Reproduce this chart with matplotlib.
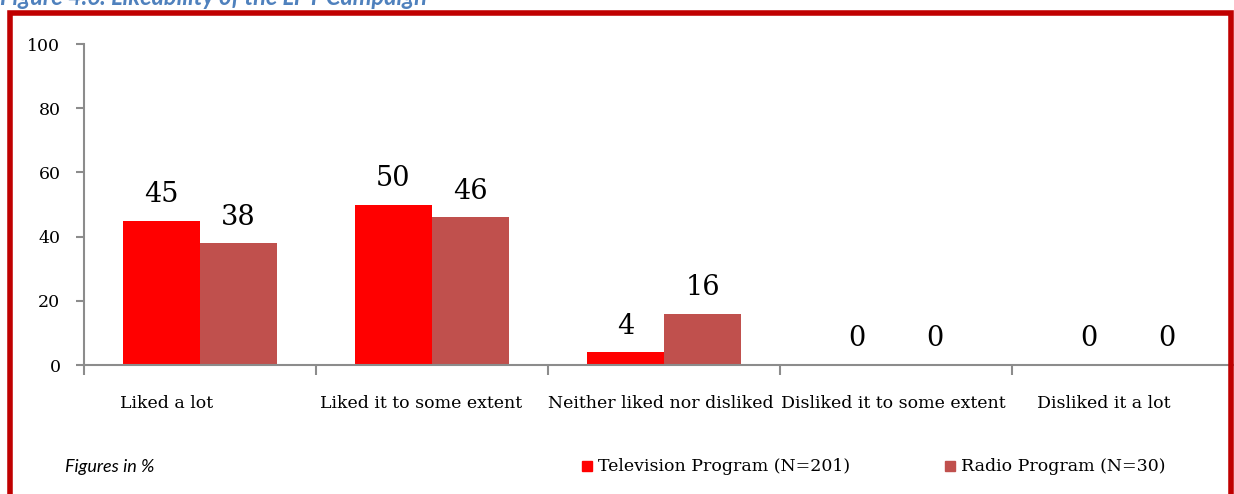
import matplotlib.pyplot as plt
import matplotlib.transforms as mtransforms
from matplotlib.patches import Rectangle
import numpy as np

categories = ["Liked a lot", "Liked it to some extent", "Neither liked nor disliked",
              "Disliked it to some extent", "Disliked it a lot"]
tv_values = [45, 50, 4, 0, 0]
radio_values = [38, 46, 16, 0, 0]
series_names = ["Television Program (N=201)", "Radio Program (N=30)"]

tv_color = "#FF0000"
radio_color = "#C0504D"
axis_color = "#8C8C8C"
serif = "DejaVu Serif"

W, H = 1234, 494
fig = plt.figure(figsize=(W / 100, H / 100), dpi=100)

# axes spans 84..1244 px horizontally (goes past the right edge), 44..365 px vertically
ax = fig.add_axes([84 / W, (H - 365) / H, (1244 - 84) / W, (365 - 44) / H])

x = np.arange(len(categories))
bw = 0.334
b1 = ax.bar(x - bw / 2, tv_values, bw, color=tv_color)
b2 = ax.bar(x + bw / 2, radio_values, bw, color=radio_color)

ax.set_xlim(-0.5, len(categories) - 0.5)
ax.set_ylim(0, 100)
ax.set_yticks(range(0, 101, 20))
ax.set_xticks(np.arange(-0.5, len(categories), 1.0))
ax.set_xticklabels([])
for s in ["top", "right"]:
    ax.spines[s].set_visible(False)
for s in ["left", "bottom"]:
    ax.spines[s].set_color(axis_color)
    ax.spines[s].set_linewidth(1.5)
ax.tick_params(axis="y", length=6, width=1.5, color=axis_color, pad=11,
               labelsize=12.5, labelfontfamily=serif)
ax.tick_params(axis="x", length=7, width=1.5, color=axis_color)

# category labels (Excel places them slightly off-center)
nudges = [-33, -11, -3, -3, -24]
for i, (lab, dx) in enumerate(zip(categories, nudges)):
    tr = ax.get_xaxis_transform() + mtransforms.ScaledTranslation(dx / 100, -38 / 100, fig.dpi_scale_trans)
    ax.text(i, 0, lab, transform=tr, ha="center", va="center",
            fontsize=12.5, family=serif)

def autolabel(rects):
    for rect in rects:
        h = rect.get_height()
        ax.annotate('%d' % int(h), (rect.get_x() + rect.get_width() / 2, h),
                    xytext=(0, 9), textcoords="offset points",
                    ha="center", va="bottom", fontsize=19.5, family=serif)

autolabel(b1)
autolabel(b2)

# legend drawn by hand like the original
fig.patches.append(Rectangle((582 / W, (H - 471) / H), 10 / W, 10 / H,
                             transform=fig.transFigure, color=tv_color))
fig.text(598 / W, (H - 466) / H, series_names[0], ha="left", va="center",
         fontsize=12.5, family=serif)
fig.patches.append(Rectangle((945 / W, (H - 471) / H), 10 / W, 10 / H,
                             transform=fig.transFigure, color=radio_color))
fig.text(961 / W, (H - 466) / H, series_names[1], ha="left", va="center",
         fontsize=12.5, family=serif)

fig.text(65 / W, (H - 467) / H, "Figures in %", ha="left", va="center",
         fontsize=13, style="italic", family="Lato")

# clipped caption and red frame
fig.text(0 / W, (H - 5) / H, "Figure 4.6: Likeability of the LPT Campaign",
         ha="left", va="baseline", fontsize=17, weight="bold", style="italic",
         family="Lato", color="#4F81BD")
fig.patches.append(Rectangle((10.5 / W, -0.1), (1231 - 10.5) / W, (H - 13.5) / H + 0.1,
                             transform=fig.transFigure, fill=False,
                             edgecolor="#C00000", linewidth=4))

fig.savefig("out.png", dpi=100)
